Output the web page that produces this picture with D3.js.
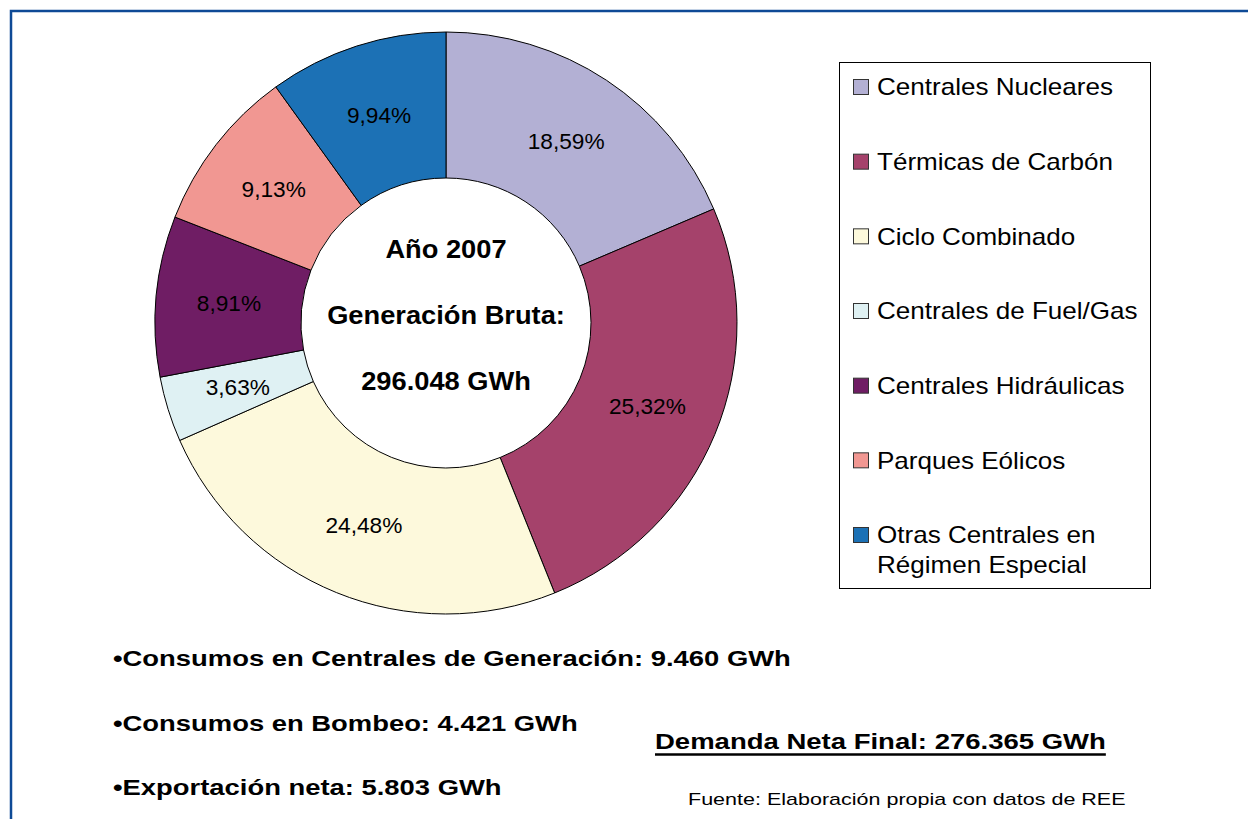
<!DOCTYPE html>
<meta charset="utf-8">

<!-- Load d3.js -->
<script src="https://d3js.org/d3.v7.min.js"></script>

<style>
    body { margin: 0; background: #fff; }
    text { font-family: "Liberation Sans", Arial, sans-serif; }
</style>

<div id="generacion_chart"></div>

<script>
    //  data
    const categories = ["Centrales Nucleares", "Térmicas de Carbón", "Ciclo Combinado",
        "Centrales de Fuel/Gas", "Centrales Hidráulicas", "Parques Eólicos",
        "Otras Centrales en Régimen Especial"];
    const shares = [18.59, 25.32, 24.48, 3.63, 8.91, 9.13, 9.94];
    const shareLabels = ["18,59%", "25,32%", "24,48%", "3,63%", "8,91%", "9,13%", "9,94%"];
    const colors = ["#b3b0d4", "#a5426b", "#fdf9dc", "#dff1f3", "#6f1d64", "#f19792", "#1c71b5"];
    const centerLines = ["Año 2007", "Generación Bruta:", "296.048 GWh"];
    const notes = ["•Consumos en Centrales de Generación: 9.460 GWh",
        "•Consumos en Bombeo: 4.421 GWh",
        "•Exportación neta: 5.803 GWh"];
    const demanda = "Demanda Neta Final: 276.365 GWh";
    const fuente = "Fuente: Elaboración propia con datos de REE";

    const width = 1248, height = 819;
    const cx = 446, cy = 323, rOuter = 291, rInner = 145;

    //  the original font runs wider than Liberation Sans, so stretch text a bit
    function stretch(sel, factor) {
        sel.each(function() {
            const w = this.getComputedTextLength();
            d3.select(this)
                .attr("textLength", w * factor)
                .attr("lengthAdjust", "spacingAndGlyphs");
        });
    }

    const svg = d3.select("#generacion_chart")
    .append("svg")
        .attr("width", width)
        .attr("height", height);

    //  blue frame (top and left edges visible)
    svg.append("path")
        .attr("d", `M11,${height} V11 H${width}`)
        .attr("fill", "none")
        .attr("stroke", "#0e4a96")
        .attr("stroke-width", 2.5);

    const pie = d3.pie().sort(null).value(d => d.value);
    const arc = d3.arc().innerRadius(rInner).outerRadius(rOuter);

    const data = categories.map((c, i) => ({ name: c, value: shares[i], label: shareLabels[i], color: colors[i] }));
    const arcs = pie(data);

    const donut = svg.append("g")
        .attr("transform", `translate(${cx}, ${cy})`);

    donut.selectAll("path")
        .data(arcs)
        .join("path")
            .attr("d", arc)
            .attr("fill", d => d.data.color)
            .attr("stroke", "#000")
            .attr("stroke-width", 1);

    const pct = donut.selectAll("text.pct")
        .data(arcs)
        .join("text")
            .attr("class", "pct")
            .attr("x", d => arc.centroid(d)[0])
            .attr("y", d => arc.centroid(d)[1])
            .attr("dy", "0.35em")
            .attr("text-anchor", "middle")
            .style("font-size", "22px")
            .text(d => d.data.label);
    stretch(pct, 1.03);

    //  text in the hole
    const center = donut.selectAll("text.center")
        .data(centerLines)
        .join("text")
            .attr("class", "center")
            .attr("x", 0)
            .attr("y", (d, i) => -74 + i * 66)
            .attr("dy", "0.35em")
            .attr("text-anchor", "middle")
            .style("font-size", "25px")
            .style("font-weight", "bold")
            .text(d => d);
    stretch(center, 1.09);

    //  legend
    const legend = svg.append("g");
    legend.append("rect")
        .attr("x", 839.5).attr("y", 62.5)
        .attr("width", 311).attr("height", 526)
        .attr("fill", "#fff")
        .attr("stroke", "#000")
        .attr("stroke-width", 1);

    const rowY = d3.scalePoint().domain(categories).range([87, 535]);

    const item = legend.selectAll("g.item")
        .data(data)
        .join("g")
            .attr("class", "item")
            .attr("transform", d => `translate(853, ${rowY(d.name)})`);

    item.append("rect")
        .attr("x", 0.5).attr("y", -7.5)
        .attr("width", 15).attr("height", 15)
        .attr("fill", d => d.color)
        .attr("stroke", "#333")
        .attr("stroke-width", 1);

    item.append("text")
        .attr("x", 24)
        .attr("y", 0)
        .style("font-size", "24px")
        .each(function(d) {
            const t = d3.select(this);
            const parts = d.name === categories[6] ? ["Otras Centrales en", "Régimen Especial"] : [d.name];
            parts.forEach((p, i) => {
                t.append("tspan").attr("x", 24).attr("dy", i === 0 ? "0.35em" : "30px").text(p);
            });
        });
    stretch(legend.selectAll("tspan"), 1.085);

    //  notes below the donut
    const noteText = svg.selectAll("text.note")
        .data(notes)
        .join("text")
            .attr("class", "note")
            .attr("x", 113)
            .attr("y", (d, i) => 666 + i * 64.5)
            .style("font-size", "22px")
            .style("font-weight", "bold")
            .text(d => d);
    stretch(noteText, 1.245);

    const dem = svg.append("text")
        .attr("x", 655)
        .attr("y", 749)
        .style("font-size", "22px")
        .style("font-weight", "bold")
        .text(demanda);
    stretch(dem, 1.25);

    //  thick underline under the demand figure
    svg.append("line")
        .attr("x1", 655)
        .attr("x2", 655 + +dem.attr("textLength"))
        .attr("y1", 754.5).attr("y2", 754.5)
        .attr("stroke", "#000")
        .attr("stroke-width", 2.5);

    const src = svg.append("text")
        .attr("x", 688)
        .attr("y", 805)
        .style("font-size", "17px")
        .text(fuente);
    stretch(src, 1.265);
</script>
